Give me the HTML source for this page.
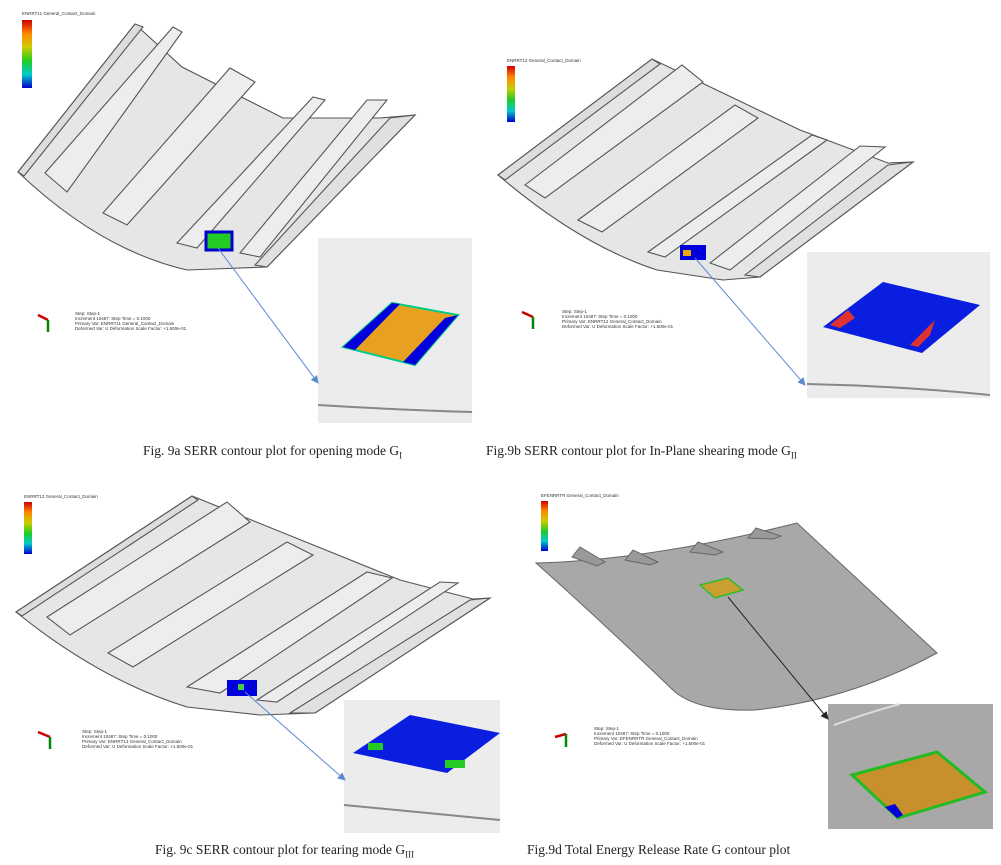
<!DOCTYPE html>
<html><head><meta charset="utf-8"><style>
body{margin:0;background:#fff;width:1001px;height:865px;overflow:hidden;position:relative;font-family:"Liberation Serif",serif}
.cap{position:absolute;font-size:13.5px;color:#222;white-space:nowrap}
sub{font-size:9px}
</style></head><body>
<svg width="1001" height="865" style="position:absolute;left:0;top:0">
<defs>
<linearGradient id="lg" x1="0" y1="0" x2="0" y2="1">
<stop offset="0" stop-color="#c00"/><stop offset=".2" stop-color="#f80"/><stop offset=".4" stop-color="#cc0"/><stop offset=".6" stop-color="#2c2"/><stop offset=".8" stop-color="#0cc"/><stop offset="1" stop-color="#00c"/></linearGradient>
<marker id="ab" markerWidth="8" markerHeight="8" refX="7" refY="4" orient="auto"><path d="M0,0L8,4L0,8z" fill="#5b8bd0"/></marker>
<marker id="ak" markerWidth="8" markerHeight="8" refX="7" refY="4" orient="auto"><path d="M0,0L8,4L0,8z" fill="#222"/></marker>
</defs>
<g stroke="#555" stroke-width="1.1" fill="#e6e6e6">
<!-- panel a -->
<path d="M18,172 Q100,250 187,270 L267,267 L415,115 L380,118 L283,118 L182,67 L135,24 Z"/>
<path d="M18,172 L135,24 L143,27 L24,176 Z" fill="#ddd"/>
<path d="M45,173 L173,27 L182,32 L67,192 Z" fill="#ededed"/>
<path d="M103,213 L230,68 L255,82 L127,225 Z" fill="#ededed"/>
<path d="M177,243 L313,97 L325,100 L197,248 Z" fill="#ededed"/>
<path d="M240,253 L367,100 L387,100 L260,257 Z" fill="#ededed"/>
<path d="M255,265 L390,118 L415,115 L267,267 Z" fill="#e0e0e0"/>
<!-- panel b -->
<path d="M498,175 Q580,245 657,270 L723,280 L760,277 L913,162 L888,163 L800,130 L652,59 Z"/>
<path d="M498,175 L652,59 L660,64 L505,180 Z" fill="#ddd"/>
<path d="M525,185 L682,65 L703,82 L545,198 Z" fill="#ededed"/>
<path d="M578,220 L735,105 L758,118 L602,232 Z" fill="#ededed"/>
<path d="M648,252 L812,135 L827,140 L665,257 Z" fill="#ededed"/>
<path d="M710,263 L860,146 L885,147 L730,270 Z" fill="#ededed"/>
<path d="M745,275 L888,165 L913,162 L760,277 Z" fill="#e0e0e0"/>
<!-- panel c -->
<path d="M16,612 Q100,680 187,707 L260,715 L315,713 L490,598 L473,599 L400,580 L192,496 Z"/>
<path d="M16,612 L192,496 L198,500 L22,616 Z" fill="#ddd"/>
<path d="M47,617 L227,502 L250,522 L70,635 Z" fill="#ededed"/>
<path d="M108,653 L287,542 L313,555 L133,667 Z" fill="#ededed"/>
<path d="M187,687 L367,572 L392,578 L220,693 Z" fill="#ededed"/>
<path d="M257,700 L440,582 L458,583 L277,702 Z" fill="#ededed"/>
<path d="M290,713 L470,600 L490,598 L315,713 Z" fill="#e0e0e0"/>
</g>
<!-- panel d -->
<path d="M536,563 Q650,560 797,523 L937,653 Q850,700 755,710 Q700,712 675,692 Q600,620 536,563 Z" fill="#a8a8a8" stroke="#666"/>
<g fill="#999" stroke="#666"><path d="M572,557l8,-10l25,15l-8,4z"/><path d="M625,560l8,-10l25,12l-8,3z"/><path d="M690,552l8,-10l25,10l-8,3z"/><path d="M748,538l8,-10l25,8l-8,3z"/></g>
<path d="M700,585 L728,578 L743,590 L715,598 Z" fill="#c9a030" stroke="#3b3" stroke-width="1.5"/>
<!-- patches -->
<rect x="206" y="232" width="26" height="18" fill="#2c2" stroke="#00c" stroke-width="3"/>
<rect x="680" y="245" width="26" height="15" fill="#00d"/><rect x="683" y="250" width="8" height="6" fill="#ea0"/>
<rect x="227" y="680" width="30" height="16" fill="#00d"/><rect x="238" y="684" width="6" height="6" fill="#4c4"/>
<!-- legends -->
<rect x="22" y="20" width="10" height="68" fill="url(#lg)"/>
<rect x="507" y="66" width="8" height="56" fill="url(#lg)"/>
<rect x="24" y="502" width="8" height="52" fill="url(#lg)"/>
<rect x="541" y="501" width="7" height="50" fill="url(#lg)"/>
<!-- insets -->
<rect x="318" y="238" width="154" height="185" fill="#ececec"/>
<path d="M318,405 Q400,410 472,412" stroke="#888" stroke-width="2" fill="none"/>
<path d="M343,347 L392,303 L458,315 L415,365 Z" fill="#e8a020" stroke="#0c8" stroke-width="2"/>
<path d="M343,347 L392,303 L400,304 L355,350 Z" fill="#00d"/>
<path d="M445,318 L458,315 L415,365 L403,362 Z" fill="#00d"/>
<rect x="807" y="252" width="183" height="146" fill="#ececec"/>
<path d="M807,384 Q900,386 990,395" stroke="#888" stroke-width="2" fill="none"/>
<path d="M823,327 L883,282 L980,305 L922,353 Z" fill="#0a1ee0"/>
<path d="M830,325 L848,310 L855,318 L840,328 Z" fill="#d33"/>
<path d="M910,345 L935,320 L930,335 L918,347 Z" fill="#d33"/>
<rect x="344" y="700" width="156" height="133" fill="#ececec"/>
<path d="M344,805 Q420,812 500,820" stroke="#888" stroke-width="2" fill="none"/>
<path d="M353,753 L410,715 L500,733 L447,773 Z" fill="#0a1ee0"/>
<rect x="368" y="743" width="15" height="7" fill="#2c2"/><rect x="445" y="760" width="20" height="8" fill="#2c2"/>
<rect x="828" y="704" width="165" height="125" fill="#a8a8a8"/>
<path d="M834,725 Q870,712 900,704" stroke="#ddd" stroke-width="2" fill="none"/>
<path d="M852,775 L937,752 L985,792 L898,818 Z" fill="#c8902c" stroke="#2b2" stroke-width="3"/>
<path d="M885,807 L895,804 L903,815 L897,818 Z" fill="#00d"/>
<!-- connectors -->
<line x1="218" y1="248" x2="318" y2="383" stroke="#5b8bd0" marker-end="url(#ab)"/>
<line x1="695" y1="258" x2="805" y2="385" stroke="#5b8bd0" marker-end="url(#ab)"/>
<line x1="245" y1="692" x2="345" y2="780" stroke="#5b8bd0" marker-end="url(#ab)"/>
<line x1="728" y1="597" x2="828" y2="719" stroke="#222" marker-end="url(#ak)"/>
<!-- axis triads -->
<g stroke-width="2.5"><path d="M38,315 L48,320" stroke="#c00"/><path d="M48,320 L48,332" stroke="#080"/></g>
<g stroke-width="2.5"><path d="M522,312 L533,317" stroke="#c00"/><path d="M533,317 L533,329" stroke="#080"/></g>
<g stroke-width="2.5"><path d="M38,732 L50,737" stroke="#c00"/><path d="M50,737 L50,749" stroke="#080"/></g>
<g stroke-width="2.5"><path d="M555,737 L566,734" stroke="#c00"/><path d="M566,734 L566,747" stroke="#080"/></g>
<g font-family="Liberation Sans" font-size="4.5" fill="#333">
<text x="75" y="315">Step: Step-1</text><text x="75" y="320">Increment 10487: Step Time = 0.1000</text><text x="75" y="325">Primary Var: ENRRT11 General_Contact_Domain</text><text x="75" y="330">Deformed Var: U Deformation Scale Factor: +1.500e-01</text>
<text x="562" y="313">Step: Step-1</text><text x="562" y="318">Increment 10487: Step Time = 0.1000</text><text x="562" y="323">Primary Var: ENRRT12 General_Contact_Domain</text><text x="562" y="328">Deformed Var: U Deformation Scale Factor: +1.500e-01</text>
<text x="82" y="733">Step: Step-1</text><text x="82" y="738">Increment 10487: Step Time = 0.1000</text><text x="82" y="743">Primary Var: ENRRT13 General_Contact_Domain</text><text x="82" y="748">Deformed Var: U Deformation Scale Factor: +1.500e-01</text>
<text x="594" y="730">Step: Step-1</text><text x="594" y="735">Increment 10487: Step Time = 0.1000</text><text x="594" y="740">Primary Var: EFENRRTR General_Contact_Domain</text><text x="594" y="745">Deformed Var: U Deformation Scale Factor: +1.500e-01</text>
<text x="22" y="15">ENRRT11 General_Contact_Domain</text><text x="507" y="62">ENRRT12 General_Contact_Domain</text><text x="24" y="498">ENRRT13 General_Contact_Domain</text><text x="541" y="497">EFENRRTR General_Contact_Domain</text>
</g>
</svg>
<div class="cap" style="left:143px;top:443px">Fig. 9a SERR contour plot for opening mode G<sub>I</sub></div>
<div class="cap" style="left:486px;top:443px">Fig.9b SERR contour plot for In-Plane shearing mode G<sub>II</sub></div>
<div class="cap" style="left:155px;top:842px">Fig. 9c SERR contour plot for tearing mode G<sub>III</sub></div>
<div class="cap" style="left:527px;top:842px">Fig.9d Total Energy Release Rate G contour plot</div>
</body></html>
